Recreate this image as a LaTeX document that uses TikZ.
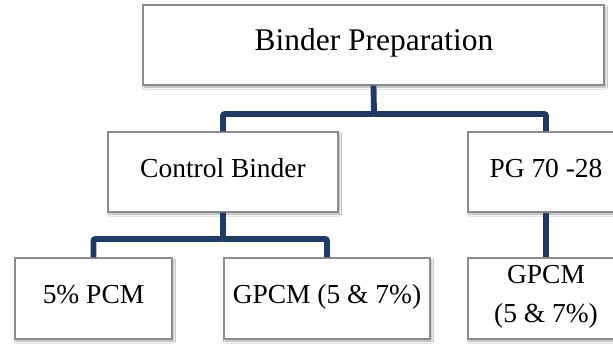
\documentclass[tikz,border=0pt]{standalone}
\usepackage{fontspec}
\setmainfont{Liberation Serif}
\usetikzlibrary{shadows.blur}
\definecolor{navy}{HTML}{1F3B63}
\definecolor{boxline}{HTML}{8C8C8C}
\tikzset{
  box/.style={draw=boxline, line width=0.9pt, fill=white, rectangle, inner sep=0pt,
    blur shadow={shadow xshift=1.2pt, shadow yshift=-1.5pt, shadow blur steps=6, shadow opacity=35, shadow blur radius=1.5pt}},
  conn/.style={draw=navy, line width=4.4pt, rounded corners=1.5pt},
  bigtxt/.style={font=\fontsize{23.6}{28}\selectfont, anchor=base, inner sep=0pt},
  txt/.style={font=\fontsize{20.6}{29}\selectfont, anchor=base, inner sep=0pt},
}
\begin{document}
\begin{tikzpicture}[x=0.75pt, y=-0.75pt]
\useasboundingbox (0,0) rectangle (613,344);
\clip (0,0) rectangle (613,344);
\fill[white] (0,0) rectangle (613,344);
% connectors first (boxes overlay ends)
\coordinate (j1) at (374,114);
\coordinate (j2) at (223,239);
\node[box, minimum width=461*0.75pt, minimum height=80*0.75pt] (top) at (373.5,45) {};
\node[box, minimum width=230*0.75pt, minimum height=80*0.75pt] (cb) at (223,172) {};
\node[box, minimum width=156*0.75pt, minimum height=80*0.75pt] (pg) at (546,172) {};
\node[box, minimum width=157*0.75pt, minimum height=81*0.75pt] (p5) at (93.5,298.5) {};
\node[box, minimum width=206*0.75pt, minimum height=81*0.75pt] (gp) at (327,298.5) {};
\node[box, minimum width=156*0.75pt, minimum height=81*0.75pt] (gp2) at (546,298.5) {};
\draw[conn] (top.south) -- (j1) -| (cb.north);
\draw[conn] (j1) -| (pg.north);
\draw[conn] (cb.south) -- (j2) -| (p5.north);
\draw[conn] (j2) -| (gp.north);
\draw[conn] (pg.south) -- (gp2.north);
% texts
\node[bigtxt] (ttop) at (374,50) {Binder Preparation};
\node[txt] (tcb) at (223,177) {Control Binder};
\node[txt] (tpg) at (546,177) {PG 70 -28};
\node[txt] (tp5) at (93.5,303) {5\% PCM};
\node[txt] (tgp) at (327,303) {GPCM (5 \& 7\%)};
\node[txt] (tg1) at (546,283) {GPCM};
\node[txt] (tg2) at (546,322) {(5 \& 7\%)};
\end{tikzpicture}
\end{document}
